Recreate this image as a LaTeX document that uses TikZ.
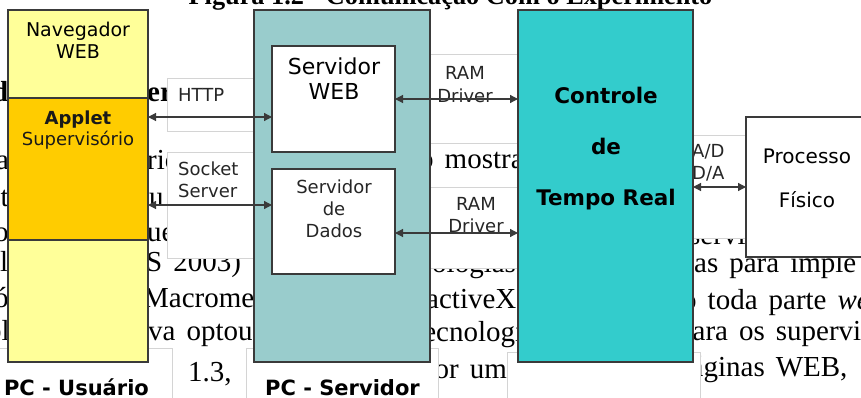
\documentclass[tikz,border=0pt]{standalone}
\usepackage{fontspec}
\newfontfamily\diagfont{DejaVu Sans}
\newfontfamily\corpofont{Liberation Serif}
\usetikzlibrary{positioning}
\usetikzlibrary{arrows.meta}

\definecolor{amarelo}{HTML}{FFFF99}
\definecolor{laranja}{HTML}{FFCC00}
\definecolor{cinzaazul}{HTML}{99CCCC}
\definecolor{ciano}{HTML}{33CCCC}
\definecolor{borda}{HTML}{3A3A3A}
\definecolor{moldura}{HTML}{D4D4D4}

\tikzset{
  bloco/.style={draw=borda, line width=1.2pt, rectangle, inner sep=0pt, outer sep=0pt},
  rotulo/.style={draw=moldura, line width=0.8pt, fill=white},
  corpo/.style={font=\corpofont\fontsize{29}{34}\selectfont, inner sep=0pt, anchor=base west,
    execute at begin node={\spaceskip=11pt\relax}},
  txt/.style={font=\diagfont\fontsize{18}{21}\selectfont, inner sep=0pt, align=center},
  seta/.style={{Triangle[length=8pt,width=8pt]}-{Triangle[length=8pt,width=8pt]}, draw=borda, line width=1.2pt},
}

\begin{document}
\begin{tikzpicture}[x=1pt, y=-1pt]
\useasboundingbox (0,0) rectangle (861,398);
\clip (0,0) rectangle (861,398);

% texto da pagina por tras da figura
\node[font=\corpofont\bfseries\fontsize{26.3}{30}\selectfont, inner sep=0pt, anchor=base] (titulo) at (450.5,5) {Figura 1.2 - Comunicação Com o Experimento};
\foreach \px/\py/\frag [count=\n] in {-8/102/{\textbf{d}}, -4/170/a, -14/206/nt, -6/241/o, 0/271/l, -6/307/ó, -13/340/bl,
    147/102/{\textbf{er}}, 147/170/rio, 149/206/u, 147/241/ue, 146/271/{S 2003)}, 143/307/Macrome, 148/340/{va optou}, 188/381/{1.3,},
    419/168/{o mostra}, 432/272/ologias, 426/308/activeX, 415/341/tecnologia, 420/378/{por um},
    689/244/servidor, 694/272/{as para imple}, 682/309/{o toda parte \textit{web}}, 678/340/{para os supervisórios}, 676/376/{páginas WEB,}}
  \node[corpo] (frag\n) at (\px,\py) {\frag};

% molduras das caixas de texto
\draw[rotulo] (167,78) rectangle (262,131);
\draw[rotulo] (167,152) rectangle (262,258);
\draw[rotulo] (425,54) rectangle (525,143);
\draw[rotulo] (425,187) rectangle (525,268);
\draw[rotulo] (686,135) rectangle (752,238);
\draw[rotulo] (-5,348) rectangle (172,410);
\draw[rotulo] (246,348) rectangle (438,410);
\draw[rotulo] (507,352) rectangle (700,410);

\node[txt, anchor=base west, text=black!85] (http) at (178,102) {HTTP};
\node[txt, anchor=north west, align=left, text=black!85, font=\diagfont\fontsize{18}{22}\selectfont] (socket) at (178,161.3) {Socket\\Server};
\node[txt, anchor=north, text=black!85, font=\diagfont\fontsize{18}{23}\selectfont] (ram1) at (465,65.9) {RAM\\Driver};
\node[txt, anchor=north, text=black!85, font=\diagfont\fontsize{18}{22}\selectfont] (ram2) at (476,196.9) {RAM\\Driver};
\node[txt, anchor=north west, align=left, text=black!85, font=\diagfont\fontsize{18}{22}\selectfont] (adda) at (692,144.3) {A/D\\D/A};

% PC - Usuario
\node[bloco, fill=amarelo, minimum width=140pt, minimum height=88pt] (navegador) at (78,54) {};
\node[bloco, fill=laranja, minimum width=140pt, minimum height=142pt, below=0pt of navegador] (applet) {};
\node[bloco, fill=amarelo, minimum width=140pt, minimum height=122pt, below=0pt of applet] (usuario) {};
\node[txt, anchor=north, font=\diagfont\fontsize{19}{22}\selectfont] (tnav) at (78,21.6) {Navegador\\WEB};
\node[txt, anchor=north, text=black!90] (tapplet) at (78,110.3) {\bfseries Applet\\Supervisório};
\node[txt, anchor=base, font=\diagfont\bfseries\fontsize{21}{24}\selectfont] (pcusuario) at (76.5,395) {PC - Usuário};

% PC - Servidor
\node[bloco, fill=cinzaazul, minimum width=176pt, minimum height=352pt] (servidor) at (342,186) {};
\node[bloco, fill=white, minimum width=123pt, minimum height=106pt] (srvweb) at (333.5,99) {};
\node[bloco, fill=white, minimum width=123pt, minimum height=105pt] (srvdados) at (333.5,221.5) {};
\node[txt, anchor=north, font=\diagfont\fontsize{22}{25}\selectfont] (tsrvweb) at (334,57.3) {Servidor\\WEB};
\node[txt, anchor=north, text=black!85, font=\diagfont\fontsize{18}{22}\selectfont] (tsrvdados) at (334,179.3) {Servidor\\de\\Dados};
\node[txt, anchor=base, font=\diagfont\bfseries\fontsize{21}{24}\selectfont] (pcservidor) at (342.5,395) {PC - Servidor};

% tempo real e processo
\node[bloco, fill=ciano, minimum width=175pt, minimum height=352pt] (controle) at (605.5,186) {};
\node[txt, anchor=north, font=\diagfont\bfseries\fontsize{21.5}{51}\selectfont] (tcontrole) at (606,86.7) {Controle\\de\\Tempo Real};
\node[bloco, fill=white, minimum width=134pt, minimum height=140pt] (processo) at (813,187) {};
\node[txt, anchor=north, font=\diagfont\fontsize{20}{44}\selectfont] (tprocesso) at (807,148.4) {Processo\\Físico};

% ligacoes
\coordinate (phttp) at ([yshift=-18pt]srvweb.west);
\coordinate (psocket) at ([yshift=16.5pt]srvdados.west);
\coordinate (pram2) at ([yshift=-11.5pt]srvdados.east);
\draw[seta] (phttp -| applet.east) -- (phttp);
\draw[seta] (psocket -| applet.east) -- (psocket);
\draw[seta] (srvweb.east) -- (srvweb.east -| controle.west);
\draw[seta] (pram2) -- (pram2 -| controle.west);
\draw[seta] (processo.west -| controle.east) -- (processo.west);
\end{tikzpicture}
\end{document}
